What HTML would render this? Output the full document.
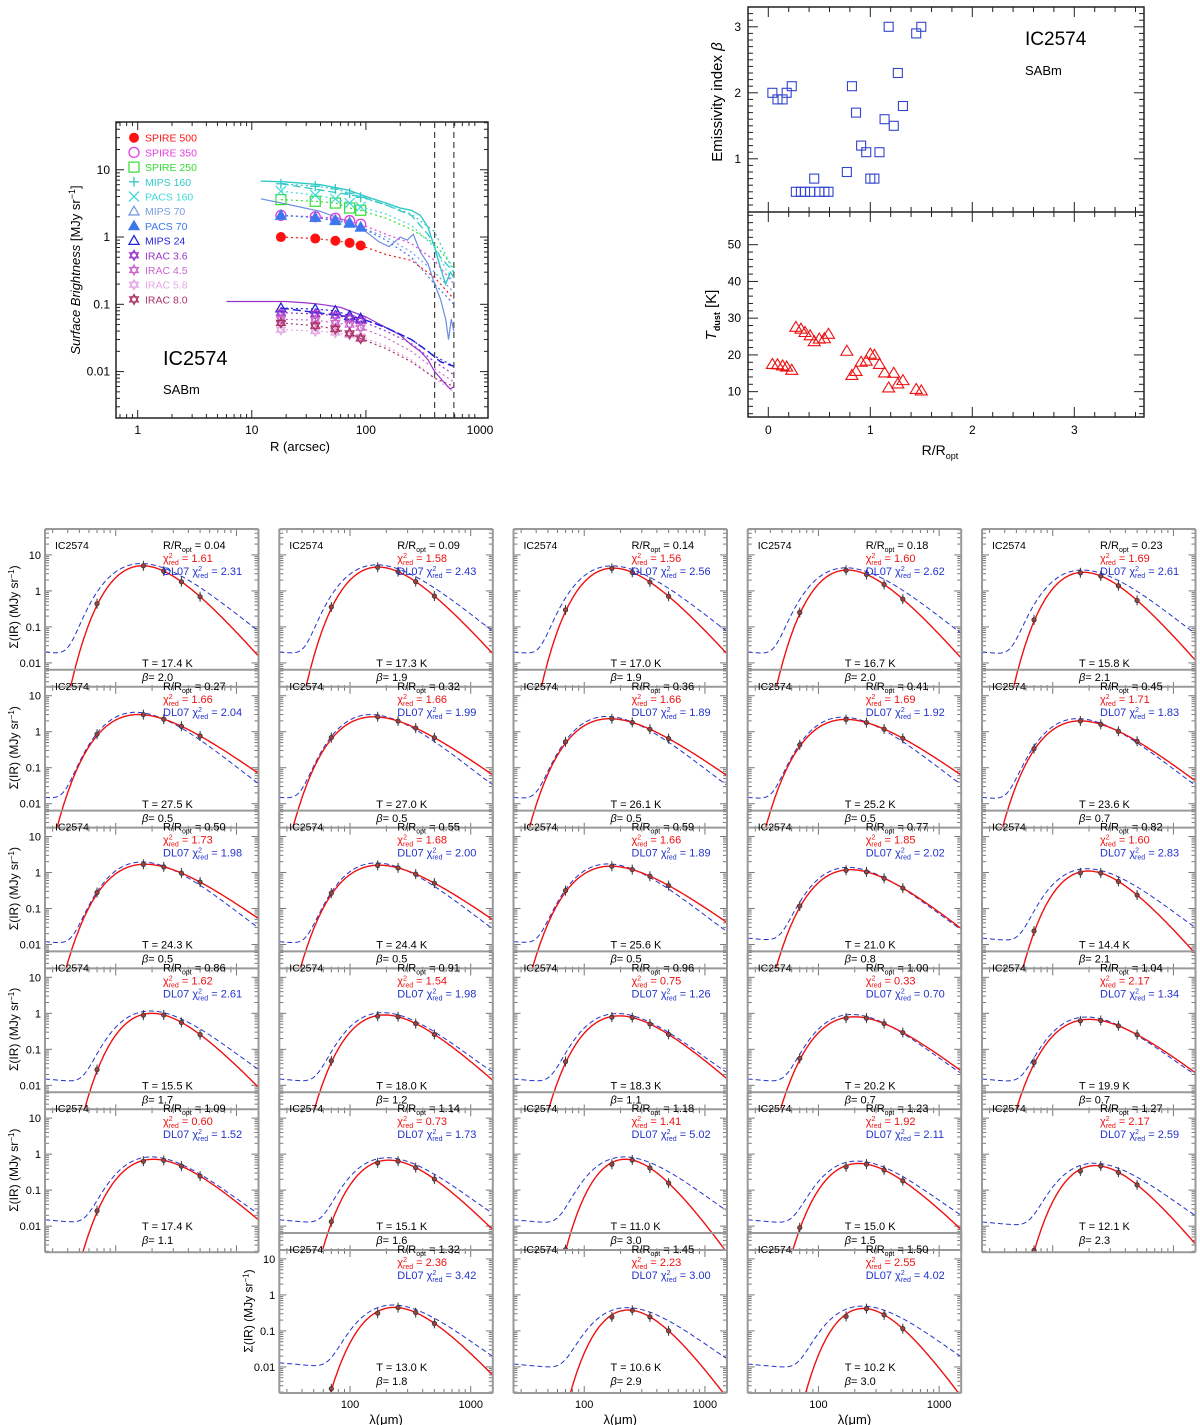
<!DOCTYPE html>
<html><head><meta charset="utf-8">
<style>
body{margin:0;background:#fff;}
svg{display:block;}
text{font-family:"Liberation Sans",sans-serif;}
</style></head>
<body>
<svg id="fig" width="1200" height="1425" viewBox="0 0 1200 1425" xmlns="http://www.w3.org/2000/svg"></svg>
<script>
// ===== Data =====
const panelR   = [0.04,0.09,0.14,0.18,0.23,0.27,0.32,0.36,0.41,0.45,0.50,0.55,0.59,0.77,0.82,0.86,0.91,0.96,1.00,1.04,1.09,1.14,1.18,1.23,1.27,1.32,1.45,1.50];
const panelChi = [1.61,1.58,1.56,1.60,1.69,1.66,1.66,1.66,1.69,1.71,1.73,1.68,1.66,1.85,1.60,1.62,1.54,0.75,0.33,2.17,0.60,0.73,1.41,1.92,2.17,2.36,2.23,2.55];
const panelDL  = [2.31,2.43,2.56,2.62,2.61,2.04,1.99,1.89,1.92,1.83,1.98,2.00,1.89,2.02,2.83,2.61,1.98,1.26,0.70,1.34,1.52,1.73,5.02,2.11,2.59,3.42,3.00,4.02];
const panelT   = [17.4,17.3,17.0,16.7,15.8,27.5,27.0,26.1,25.2,23.6,24.3,24.4,25.6,21.0,14.4,15.5,18.0,18.3,20.2,19.9,17.4,15.1,11.0,15.0,12.1,13.0,10.6,10.2];
const panelBeta= [2.0,1.9,1.9,2.0,2.1,0.5,0.5,0.5,0.5,0.7,0.5,0.5,0.5,0.8,2.1,1.7,1.2,1.1,0.7,0.7,1.1,1.6,3.0,1.5,2.3,1.8,2.9,3.0];
const panelPeak= [5.0,4.6,4.3,3.8,3.3,3.0,2.6,2.3,2.2,2.0,1.7,1.6,1.5,1.2,1.1,1.0,0.9,0.85,0.8,0.68,0.72,0.68,0.72,0.55,0.48,0.45,0.38,0.42];
const panelWarm= [0.02,0.02,0.02,0.02,0.02,0.015,0.015,0.015,0.015,0.015,0.012,0.012,0.012,0.015,0.015,0.015,0.015,0.015,0.015,0.015,0.015,0.015,0.015,0.015,0.013,0.013,0.012,0.012];
const obsWave  = [70,160,250,350,500];

// Radial profiles (top-left)
const profR = [18,36,54,72,90];
const profNames = ["SPIRE 500","SPIRE 350","SPIRE 250","MIPS 160","PACS 160","MIPS 70","PACS 70","MIPS 24","IRAC 3.6","IRAC 4.5","IRAC 5.8","IRAC 8.0"];
const profColors= ["#ff1111","#e040e0","#33dd33","#33c8c8","#44dada","#7a9ae0","#3a78ee","#2222dd","#9933cc","#cc66cc","#e4a8e4","#aa3366"];
const profMarks = ["fcircle","ocircle","square","plus","cross","otri","ftri","otri","star","star","star","star"];
const profVals = [
 [1.0,0.95,0.88,0.82,0.75],
 [2.1,2.0,1.9,1.75,1.55],
 [3.6,3.4,3.2,2.7,2.5],
 [6.2,5.7,5.2,4.5,3.9],
 [4.8,4.2,3.7,3.2,2.8],
 [2.1,1.95,1.8,1.65,1.4],
 [2.1,1.95,1.75,1.6,1.4],
 [0.088,0.085,0.08,0.068,0.062],
 [0.075,0.072,0.068,0.062,0.057],
 [0.06,0.058,0.053,0.05,0.045],
 [0.042,0.04,0.038,0.035,0.033],
 [0.053,0.048,0.043,0.037,0.031]];
const outR = [90,150,250,400,590];
const outVals = [
 [0.75,0.55,0.45,0.25,0.12],
 [1.55,1.1,0.8,0.45,0.2],
 [2.5,1.9,1.3,0.8,0.35],
 [3.9,3.0,2.2,1.2,0.3],
 [2.8,2.2,1.5,0.7,0.2],
 [1.4,1.0,0.6,0.3,0.15],
 [1.4,0.9,0.5,0.2,0.1],
 [0.062,0.045,0.03,0.017,0.012],
 [0.057,0.04,0.026,0.014,0.009],
 [0.045,0.032,0.02,0.011,0.007],
 [0.033,0.024,0.015,0.008,0.005],
 [0.031,0.022,0.014,0.008,0.006]];
const lineCyanR = [12,20,40,70,100,150,200,250,300,350,400,450,500,550,590];
const lineCyanV = [6.8,6.6,6.0,5.0,4.0,3.2,2.7,2.5,2.1,1.4,0.7,0.35,0.2,0.3,0.25];
const lineBlueR = [12,20,40,70,100,130,160,200,230,260,300,350,400,450,500,530,560,590];
const lineBlueV = [3.7,3.1,2.4,1.7,1.2,0.85,0.72,1.0,0.9,1.1,0.6,0.4,0.2,0.12,0.06,0.03,0.06,0.04];
const linePurR = [6,10,20,30,40,60,100,150,200,250,300,350,400,450,500,550,590];
const linePurV = [0.11,0.11,0.11,0.105,0.1,0.09,0.065,0.045,0.035,0.025,0.02,0.015,0.01,0.008,0.0065,0.0055,0.006];
const line24R = [18,90,150,250,350,450,590];
const line24V = [0.088,0.062,0.045,0.03,0.02,0.014,0.012];
const lineC2R = [18,90,150,250,350,450,590];
const lineC2V = [6.2,4.0,3.0,2.1,1.1,0.5,0.3];
const xTicksL = ["1","10","100","1000"];
const yTicksL = ["10","1","0.1","0.01"];

// ===== helpers =====
const NS="http://www.w3.org/2000/svg";
const svg=document.getElementById('fig');
function mk(tag,attrs,name,parent){
  const el=document.createElementNS(NS,tag);
  for(const k in attrs) el.setAttribute(k,attrs[k]);
  
  
  (parent||svg).appendChild(el);
  return el;
}
function txt(x,y,s,size,fill,name,anchor,parent,family){
  const t=mk('text',{x:x,y:y,'font-size':size,fill:fill||'#000','text-anchor':anchor||'start'},name,parent);
  if(family) t.setAttribute('font-family',family);
  t.textContent=s;return t;
}
const L10=Math.log10;
const defs=mk('defs',{},'clip-defs');

// ===== Top-left radial profile =====
(function(){
  const X0=116,X1=488,Y0=122,Y1=418;
  const lx0=-0.19,lx1=3.07,ly0=1.71,ly1=-2.69;
  const sx=r=>X0+(L10(r)-lx0)/(lx1-lx0)*(X1-X0);
  const sy=v=>Y0+(ly0-L10(v))/(ly0-ly1)*(Y1-Y0);
  const g=mk('g',{},'profile-chart');
  const cp=mk('clipPath',{id:'cprof'},'profile-clip',defs);
  mk('rect',{x:X0,y:Y0,width:X1-X0,height:Y1-Y0},'clip-rect',cp);
  mk('rect',{x:X0,y:Y0,width:X1-X0,height:Y1-Y0,fill:'none',stroke:'#222','stroke-width':1.5},'profile-frame',g);
  for(let d=0;d<=3;d++){for(let m=1;m<10;m++){const v=m*Math.pow(10,d-1);const lv=L10(v);if(lv<lx0||lv>lx1)continue;const x=sx(v);const len=m==1?8:4;
    mk('line',{x1:x,y1:Y1,x2:x,y2:Y1-len,stroke:'#222'},'x-tick',g);mk('line',{x1:x,y1:Y0,x2:x,y2:Y0+len,stroke:'#222'},'x-tick',g);}}
  for(let d=-3;d<=1;d++){for(let m=1;m<10;m++){const v=m*Math.pow(10,d);const lv=L10(v);if(lv>ly0||lv<ly1)continue;const y=sy(v);const len=m==1?8:4;
    mk('line',{x1:X0,y1:y,x2:X0+len,y2:y,stroke:'#222'},'y-tick',g);mk('line',{x1:X1,y1:y,x2:X1-len,y2:y,stroke:'#222'},'y-tick',g);}}
  xTicksL.forEach(s=>txt(sx(+s),434,s,12,'#000','x-tick-label','middle',g));
  yTicksL.forEach(s=>txt(X0-6,sy(+s)+4,s,12,'#000','y-tick-label','end',g));
  txt(300,451,'R (arcsec)',13,'#000','x-axis-title','middle',g);
  const yt=txt(0,0,'',13,'#000','y-axis-title','middle',g);
  yt.setAttribute('transform','translate(80,270) rotate(-90)');
  yt.innerHTML='<tspan font-style="italic">Surface Brightness</tspan> [MJy sr<tspan dy="-5" font-size="9">−1</tspan><tspan dy="5">]</tspan>';
  const pg=mk('g',{'clip-path':'url(#cprof)'},'profile-plot-area',g);
  [400,590].forEach(r=>mk('line',{x1:sx(r),y1:Y0,x2:sx(r),y2:Y1,stroke:'#444','stroke-dasharray':'6,4','stroke-width':1.2},'aperture-line',pg));
  const poly=(R,V,col,dash,w,name)=>mk('polyline',{points:R.map((r,i)=>sx(r)+','+sy(V[i])).join(' '),fill:'none',stroke:col,'stroke-width':w||1.2,'stroke-dasharray':dash||''},name,pg);
  poly(lineCyanR,lineCyanV,'#33c8c8','',1.4,'mips160-profile-line');
  poly(lineBlueR,lineBlueV,'#6a8ee0','',1.2,'mips70-profile-line');
  poly(linePurR,linePurV,'#9933cc','',1.2,'irac36-profile-line');
  poly(line24R,line24V,'#2222dd','8,4',1.5,'mips24-profile-line');
  poly(lineC2R,lineC2V,'#33c8c8','8,4',1.3,'pacs160-profile-line');
  function marker(type,x,y,col,r,name,parent){
    if(type==='fcircle') mk('circle',{cx:x,cy:y,r:r,fill:col},name,parent);
    else if(type==='ocircle') mk('circle',{cx:x,cy:y,r:r,fill:'none',stroke:col,'stroke-width':1.3},name,parent);
    else if(type==='square') mk('rect',{x:x-r,y:y-r,width:2*r,height:2*r,fill:'none',stroke:col,'stroke-width':1.2},name,parent);
    else if(type==='plus') mk('path',{d:`M${x-r} ${y}H${x+r}M${x} ${y-r}V${y+r}`,stroke:col,'stroke-width':1.3},name,parent);
    else if(type==='cross') mk('path',{d:`M${x-r} ${y-r}L${x+r} ${y+r}M${x-r} ${y+r}L${x+r} ${y-r}`,stroke:col,'stroke-width':1.3},name,parent);
    else if(type==='otri'||type==='ftri') mk('path',{d:`M${x} ${y-r}L${x+r} ${y+r*0.75}L${x-r} ${y+r*0.75}Z`,fill:type==='ftri'?col:'none',stroke:col,'stroke-width':1.3},name,parent);
    else { let d='M'+x+' '+(y-r)+` L${x+r*.87} ${y+r*.5} L${x-r*.87} ${y+r*.5} Z M${x} ${y+r} L${x+r*.87} ${y-r*.5} L${x-r*.87} ${y-r*.5} Z`;
      mk('path',{d:d,fill:'none',stroke:col,'stroke-width':1.2},name,parent);}
  }
  profVals.forEach((vals,si)=>{
    const col=profColors[si];
    poly(outR,outVals[si],col,'2,3',1.2,'profile-extension-'+si);
    poly(profR,vals,col,'2,3',1.2,'profile-link-'+si);
    vals.forEach((v,i)=>marker(profMarks[si],sx(profR[i]),sy(v),col,5,'profile-point',pg));
    const ly=137.7+si*14.7;
    marker(profMarks[si],134,ly,col,5,'legend-marker',g);
    txt(145,ly+4,profNames[si],10.5,col,'legend-entry','start',g);
  });
  txt(163,365,'IC2574',20,'#000','galaxy-name','start',g,'"Liberation Serif",serif');
  txt(163,394,'SABm',13,'#000','galaxy-type','start',g,'"Liberation Serif",serif');
})();

// ===== Top-right beta / Tdust =====
(function(){
  const X0=748,X1=1144,YA=7,YM=212,YB=417;
  const sx=r=>768.3+r*102;
  const syb=b=>YA+(3.3-b)*66;
  const syt=t=>YM+(58.9-t)*(YB-YM)/55.8;
  const g=mk('g',{},'beta-temperature-chart');
  mk('rect',{x:X0,y:YA,width:X1-X0,height:YB-YA,fill:'none',stroke:'#222','stroke-width':1.5},'bt-frame',g);
  mk('line',{x1:X0,y1:YM,x2:X1,y2:YM,stroke:'#222','stroke-width':1.5},'bt-divider',g);
  for(let i=-1;i<=18;i++){const r=i*0.2;const x=sx(r);if(x<X0||x>X1)continue;const len=i%5==0?10:5;
    [YA,YM,YB].forEach(y=>{ if(y!==YA) mk('line',{x1:x,y1:y,x2:x,y2:y-len,stroke:'#222'},'x-tick',g); if(y!==YB) mk('line',{x1:x,y1:y,x2:x,y2:y+len,stroke:'#222'},'x-tick',g);});}
  for(let i=3;i<=33;i++){const b=i*0.1;const y=syb(b);if(y<YA||y>YM)continue;const len=i%10==0?10:5;
    mk('line',{x1:X0,y1:y,x2:X0+len,y2:y,stroke:'#222'},'y-tick',g);mk('line',{x1:X1,y1:y,x2:X1-len,y2:y,stroke:'#222'},'y-tick',g);}
  for(let t=4;t<=58;t+=2){const y=syt(t);const len=t%10==0?10:5;
    mk('line',{x1:X0,y1:y,x2:X0+len,y2:y,stroke:'#222'},'y-tick',g);mk('line',{x1:X1,y1:y,x2:X1-len,y2:y,stroke:'#222'},'y-tick',g);}
  ['0','1','2','3'].forEach(s=>txt(sx(+s),434,s,12,'#000','x-tick-label','middle',g));
  ['1','2','3'].forEach(s=>txt(741,syb(+s)+4,s,12,'#000','beta-tick-label','end',g));
  ['10','20','30','40','50'].forEach(s=>txt(741,syt(+s)+4,s,12,'#000','t-tick-label','end',g));
  const xt=txt(940,455,'',14,'#000','x-axis-title','middle',g,'"Liberation Serif",serif');
  xt.innerHTML='R/R<tspan dy="4" font-size="9">opt</tspan>';
  const b1=txt(0,0,'',15,'#000','beta-axis-title','middle',g,'"Liberation Serif",serif');
  b1.setAttribute('transform','translate(722,102) rotate(-90)');
  b1.innerHTML='Emissivity index <tspan font-style="italic">β</tspan>';
  const t1=txt(0,0,'',15,'#000','tdust-axis-title','middle',g,'"Liberation Serif",serif');
  t1.setAttribute('transform','translate(716,315) rotate(-90)');
  t1.innerHTML='<tspan font-style="italic">T</tspan><tspan dy="4" font-size="9" font-weight="bold">dust</tspan><tspan dy="-4"> [K]</tspan>';
  txt(1025,45,'IC2574',19,'#000','galaxy-name','start',g,'"Liberation Serif",serif');
  txt(1025,75,'SABm',13,'#000','galaxy-type','start',g,'"Liberation Serif",serif');
  panelR.forEach((r,i)=>{
    const x=sx(r),y=syb(panelBeta[i]);
    mk('rect',{x:x-4.5,y:y-4.5,width:9,height:9,fill:'none',stroke:'#3344cc','stroke-width':1.1},'beta-point',g);
    const yt2=syt(panelT[i]);
    mk('path',{d:`M${x} ${yt2-6}L${x+6} ${yt2+4}L${x-6} ${yt2+4}Z`,fill:'none',stroke:'#ee1111','stroke-width':1.1},'tdust-point',g);
  });
})();

// ===== SED panels =====
(function(){
  const colX=[45,279.3,513.5,747.7,982];
  const W=213.5, H=160, lam0=1.414, lam1=3.187, pxDec=120.7, pyDec=36;
  const layout=[];
  for(let k=0;k<28;k++){ if(k<25) layout.push([Math.floor(k/5),k%5]); else layout.push([5,k-24]); }
  function mbb(lam,T,b){const x=14388/(lam*T);if(x>200)return 0;return Math.pow(1/lam,3+b)/(Math.exp(x)-1);}
  function peakNorm(T,b){let m=0;for(let l=20;l<3000;l*=1.02){m=Math.max(m,mbb(l,T,b));}return m;}
  layout.forEach(([row,col],k)=>{
    const L=colX[col], Y=529+row*140.8;
    const top=row>0?Y+17:Y;
    const px=l=>L+(L10(l)-lam0)*pxDec;
    const py=v=>Y+(1.72-L10(v))*pyDec;
    const g=mk('g',{},'sed-panel-'+(k+1));
    mk('rect',{x:L,y:top,width:W,height:Y+H-top,fill:'#fff'},'panel-bg',g);
    const cp=mk('clipPath',{id:'c'+k},'panel-clip',defs);
    mk('rect',{x:L,y:top,width:W,height:Y+H-top},'clip-rect',cp);
    const tg=mk('g',{stroke:'#777','stroke-width':1},'panel-ticks',g);
    for(let d=1;d<=3;d++)for(let m=1;m<10;m++){const v=m*Math.pow(10,d);const lv=L10(v);if(lv<lam0||lv>lam1)continue;const x=px(v);const len=m==1?7:4;
      mk('line',{x1:x,y1:Y+H,x2:x,y2:Y+H-len},'x-tick',tg);mk('line',{x1:x,y1:top,x2:x,y2:top+len},'x-tick',tg);}
    for(let d=-3;d<=1;d++)for(let m=1;m<10;m++){const v=m*Math.pow(10,d);const y=py(v);if(y<top||y>Y+H)continue;const len=m==1?7:4;
      mk('line',{x1:L,y1:y,x2:L+len,y2:y},'y-tick',tg);mk('line',{x1:L+W,y1:y,x2:L+W-len,y2:y},'y-tick',tg);}
    const T=panelT[k],b=panelBeta[k],A=panelPeak[k];
    const nR=peakNorm(T,b);
    const bb=1.0;
    const Tb=T*(4.965+(b-2)*0.98)/3.83;
    const nB=peakNorm(Tb,bb);
    let rp=[],bp=[];
    for(let l=Math.pow(10,lam0);l<=Math.pow(10,lam1)*1.01;l*=1.015){
      const vr=A*mbb(l,T,b)/nR; if(vr>1e-4) rp.push(px(l).toFixed(1)+','+py(vr).toFixed(1));
      const vb=A*1.15*mbb(l,Tb,bb)/nB+panelWarm[k]*Math.pow(l/26,-0.3);
      bp.push(px(l).toFixed(1)+','+py(vb).toFixed(1));
    }
    const cg=mk('g',{'clip-path':'url(#c'+k+')'},'panel-curves',g);
    mk('polyline',{points:bp.join(' '),fill:'none',stroke:'#2233cc','stroke-width':1,'stroke-dasharray':'5,3'},'dl07-model-curve',cg);
    mk('polyline',{points:rp.join(' '),fill:'none',stroke:'#ee1111','stroke-width':1.4},'mbb-fit-curve',cg);
    obsWave.forEach((w,i)=>{
      const v=A*mbb(w,T,b)/nR*(i==0?1.1:1);
      const x=px(w)+(i==1?3:0), y=py(v);
      if(y<top||y>Y+H) return;
      mk('line',{x1:x,y1:y-5,x2:x,y2:y+5,stroke:'#333'},'error-bar',cg);
      mk('circle',{cx:x,cy:y,r:2.2,fill:'#a04040',stroke:'#333','stroke-width':0.8},'data-point',cg);
    });
    const fg=mk('g',{stroke:'#999','stroke-width':2,fill:'none'},'panel-frame',g);
    mk('line',{x1:L,y1:Y,x2:L,y2:Y+H},'frame-left',fg);
    mk('line',{x1:L+W,y1:Y,x2:L+W,y2:Y+H},'frame-right',fg);
    mk('line',{x1:L,y1:Y,x2:L+W,y2:Y},'frame-top',fg);
    if(row>0) mk('line',{x1:L,y1:Y+17,x2:L+W,y2:Y+17},'frame-top-inner',fg);
    mk('line',{x1:L,y1:Y+H,x2:L+W,y2:Y+H},'frame-bottom',fg);
    const tx=L+118;
    txt(L+10,Y+20,'IC2574',10.5,'#000','galaxy-label','start',g);
    const rt=txt(tx,Y+20,'',11,'#000','r-ropt-label','start',g);
    rt.innerHTML='R/R<tspan dy="3" font-size="7">opt</tspan><tspan dy="-3"> = '+panelR[k].toFixed(2)+'</tspan>';
    const ct=txt(tx,Y+33,'',11,'#ee1111','chi2-label','start',g);
    ct.innerHTML='χ<tspan dy="-4" font-size="7">2</tspan><tspan dx="-4" dy="7" font-size="7">red</tspan><tspan dy="-3"> = '+panelChi[k].toFixed(2)+'</tspan>';
    const dt=txt(tx,Y+46,'',11,'#2233cc','dl07-chi2-label','start',g);
    dt.innerHTML='DL07 χ<tspan dy="-4" font-size="7">2</tspan><tspan dx="-4" dy="7" font-size="7">red</tspan><tspan dy="-3"> = '+panelDL[k].toFixed(2)+'</tspan>';
    txt(L+97,Y+138,'T = '+panelT[k].toFixed(1)+' K',11,'#000','temperature-label','start',g);
    const bt=txt(L+97,Y+152,'',11,'#000','beta-label','start',g);
    bt.innerHTML='<tspan font-style="italic">β</tspan>= '+panelBeta[k].toFixed(1);
    if(col==0 || (row==5 && col==1)){
      ['10','1','0.1','0.01'].forEach(s=>txt(L-4,py(+s)+4,s,11,'#000','y-tick-label','end',g));
      const yl=txt(0,0,'',12,'#000','y-axis-title','middle',g);
      yl.setAttribute('transform',`translate(${L-27},${Y+78}) rotate(-90)`);
      yl.innerHTML='Σ(IR) (MJy sr<tspan dy="-4" font-size="8">−1</tspan><tspan dy="4">)</tspan>';
    }
    if(row==5){
      ['100','1000'].forEach(s=>txt(px(+s),Y+H+15,s,11,'#000','x-tick-label','middle',g));
      txt(L+W/2,Y+H+31,'λ(μm)',13,'#000','x-axis-title','middle',g,'"Liberation Serif",serif');
    }
  });
})();
</script>
</body></html>
